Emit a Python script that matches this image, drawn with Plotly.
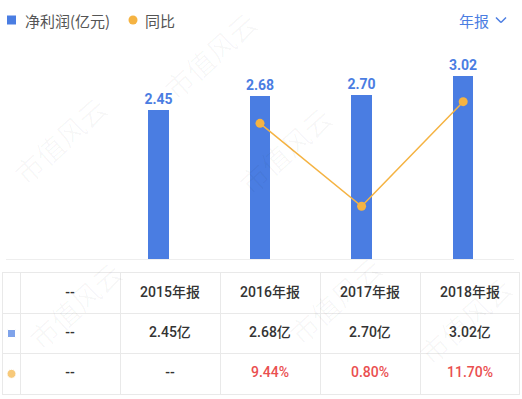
import plotly.graph_objects as go

categories = ["--", "2015年报", "2016年报", "2017年报", "2018年报"]
profit = [None, 2.45, 2.68, 2.70, 3.02]
yoy = [None, None, 9.44, 0.80, 11.70]
profit_labels = ["--", "2.45亿", "2.68亿", "2.70亿", "3.02亿"]
yoy_labels = ["--", "--", "9.44%", "0.80%", "11.70%"]
legend_names = ["净利润(亿元)", "同比"]

BLUE = "#4a7de2"
ORANGE = "#f5b342"
RED = "#ea4f4f"
DARK = "#333333"
GRID = "#e9e9e9"
FONT = "Roboto, Noto Sans CJK SC, sans-serif"
CJK = "Noto Sans CJK SC"

W, H = 522, 399

fig = go.Figure()

# bars
fig.add_trace(go.Bar(
    x=categories, y=profit, name=legend_names[0], marker=dict(color=BLUE, line=dict(width=0)),
    width=0.2, text=[("%.2f" % v) if v is not None else "" for v in profit],
    textposition="outside", cliponaxis=False, constraintext="none",
    textfont=dict(color=BLUE, size=14, family=FONT, weight="bold"),
    xaxis="x", yaxis="y",
))
# yoy line
fig.add_trace(go.Scatter(
    x=categories, y=yoy, mode="lines+markers", name=legend_names[1],
    line=dict(color=ORANGE, width=1.5), marker=dict(color=ORANGE, size=9),
    xaxis="x", yaxis="y2", connectgaps=False,
))

# table text via numeric column index
cols = list(range(len(categories)))
fig.add_trace(go.Scatter(
    x=cols, y=[0] * len(cols), mode="text", text=categories,
    textfont=dict(color=DARK, size=14, family=FONT, weight=500), xaxis="x3", yaxis="y3",
    hoverinfo="skip",
))
fig.add_trace(go.Scatter(
    x=cols, y=[1] * len(cols), mode="text", text=profit_labels,
    textfont=dict(color=DARK, size=14, family=FONT, weight=500), xaxis="x3", yaxis="y3",
    hoverinfo="skip",
))
fig.add_trace(go.Scatter(
    x=cols, y=[2] * len(cols), mode="text", text=yoy_labels,
    textfont=dict(color=[DARK, DARK] + [RED] * (len(cols) - 2), size=14, family=FONT, weight=500),
    xaxis="x3", yaxis="y3", hoverinfo="skip",
))
# row icons
fig.add_trace(go.Scatter(
    x=[-0.585, -0.585], y=[1, 2], mode="markers",
    marker=dict(color=[BLUE, ORANGE], symbol=["square", "circle"], size=[8, 9]),
    xaxis="x3", yaxis="y3", hoverinfo="skip",
))

# watermarks (faint, kept inside the page)
wm = [(210, 55), (285, 150), (335, 300), (75, 305), (60, 140), (465, 320)]
for (px, py) in wm:
    fig.add_annotation(
        xref="paper", yref="paper", x=px / W, y=1 - py / H, text="市值风云",
        showarrow=False, textangle=-42, xanchor="center", yanchor="middle",
        font=dict(size=28, color="rgba(0,0,0,0.03)", family=CJK),
    )

# custom legend (top-left)
fig.add_shape(type="rect", xref="paper", yref="paper", x0=7 / W, x1=16 / W, y0=1 - 24.5 / H, y1=1 - 15.5 / H,
              fillcolor=BLUE, line=dict(width=0))
fig.add_annotation(xref="paper", yref="paper", x=23 / W, y=1 - 20 / H, xanchor="left", yanchor="middle",
                   text=legend_names[0], showarrow=False, font=dict(size=15, color="#555", family=CJK))
fig.add_shape(type="circle", xref="paper", yref="paper", x0=128.5 / W, x1=137.5 / W, y0=1 - 24.5 / H, y1=1 - 15.5 / H,
              fillcolor=ORANGE, line=dict(width=0))
fig.add_annotation(xref="paper", yref="paper", x=143 / W, y=1 - 20 / H, xanchor="left", yanchor="middle",
                   text=legend_names[1], showarrow=False, font=dict(size=15, color="#555", family=CJK))

# top-right selector
fig.add_annotation(xref="paper", yref="paper", x=491 / W, y=1 - 20 / H, xanchor="right", yanchor="middle",
                   text="年报", showarrow=False, font=dict(size=15, color=BLUE, family=CJK))
fig.add_shape(type="line", xref="paper", yref="paper", x0=496 / W, y0=1 - 17.5 / H, x1=501 / W, y1=1 - 22.5 / H,
              line=dict(color=BLUE, width=1.5))
fig.add_shape(type="line", xref="paper", yref="paper", x0=501 / W, y0=1 - 22.5 / H, x1=506 / W, y1=1 - 17.5 / H,
              line=dict(color=BLUE, width=1.5))

fig.update_layout(
    width=W, height=H, margin=dict(l=0, r=0, t=0, b=0),
    paper_bgcolor="white", plot_bgcolor="white",
    font=dict(family=FONT, color="#555"),
    bargap=0, showlegend=False,
    xaxis=dict(domain=[6 / W, 514 / W], type="category", showticklabels=False, showgrid=False,
               showline=True, linecolor="#eeeeee", linewidth=1, ticks="", zeroline=False,
               anchor="y", fixedrange=True),
    yaxis=dict(domain=[1 - 259 / H, 1 - 60 / H], range=[0, 3.28], showticklabels=False,
               showgrid=False, zeroline=False, showline=False, fixedrange=True),
    yaxis2=dict(domain=[1 - 259 / H, 1 - 60 / H], range=[-4.69, 16.04], overlaying="y",
                showticklabels=False, showgrid=False, zeroline=False, showline=False, fixedrange=True),
    xaxis3=dict(domain=[3 / W, 519 / W], range=[-0.67, 4.49], showticklabels=False,
                tickvals=[-0.5, 0.5, 1.5, 2.5, 3.5], showgrid=True, gridcolor=GRID, gridwidth=1,
                zeroline=False, showline=True, mirror=True, linecolor=GRID, linewidth=1,
                ticks="", anchor="y3", fixedrange=True),
    yaxis3=dict(domain=[1 - 394 / H, 1 - 273 / H], range=[2.5, -0.5], showticklabels=False,
                tickvals=[0.5, 1.5], showgrid=True, gridcolor=GRID, gridwidth=1,
                zeroline=False, showline=True, mirror=True, linecolor=GRID, linewidth=1,
                ticks="", anchor="x3", fixedrange=True),
)

fig.write_html("out.html")
